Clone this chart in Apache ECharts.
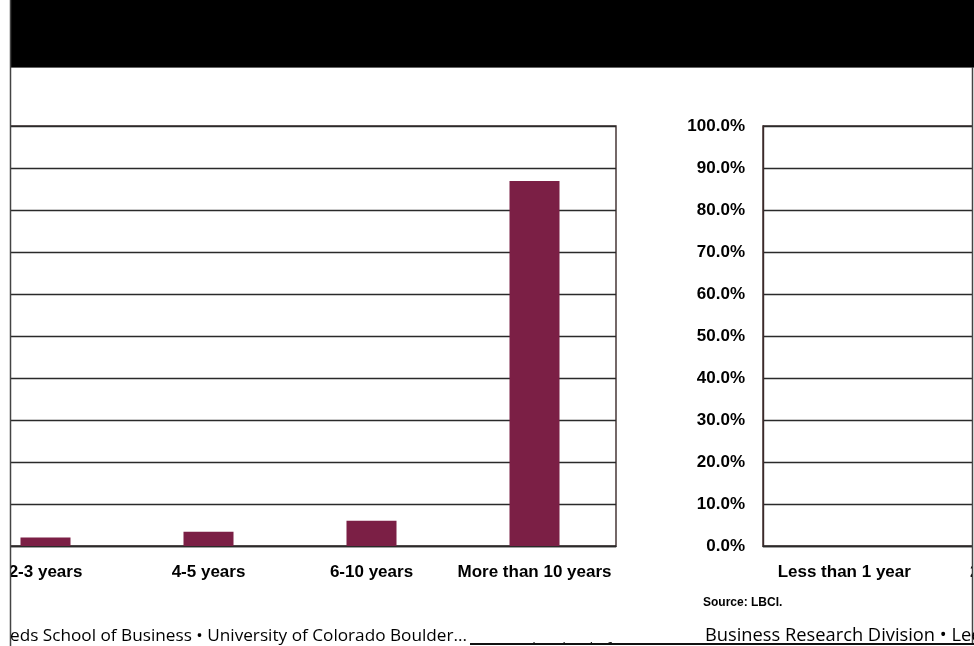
<!DOCTYPE html>
<html>
<head>
<meta charset="utf-8">
<script src="https://cdn.jsdelivr.net/npm/echarts@6/dist/echarts.min.js"></script>
<style>
html,body{margin:0;padding:0;background:#fff;width:974px;height:646px;overflow:hidden;position:relative;}
#c{position:absolute;left:-40px;top:0;width:1200px;height:646px;}
</style>
</head>
<body>
<div id="c"></div>
<script>
// Left chart (cropped on the left)
var leftCategories = ['2-3 years', '4-5 years', '6-10 years', 'More than 10 years'];
var leftValues = [2.0, 3.4, 6.0, 86.9];
// Right chart (cropped on the right)
var rightCategories = ['Less than 1 year', '2-3 years'];
var rightValues = [0, null];
var yTicks = { min: 0, max: 100, interval: 10 };
var sourceText = 'Source: LBCI.';
var footerLeft = 'eds School of Business \u2022 University of Colorado Boulder...';
var footerRight = 'Business Research Division \u2022 Leeds School of Business';

var OX = 40; // container offset (chart canvas starts 40px left of the viewport)
var chart = echarts.init(document.getElementById('c'), null, { renderer: 'canvas' });
var labelFont = { color: '#000', fontWeight: 'bold', fontSize: 17, fontFamily: 'Liberation Sans, Arial, sans-serif' };
var gridLine = { show: true, lineStyle: { color: '#2a2a2a', width: 1.4 } };

chart.setOption({
  animation: false,
  backgroundColor: '#fff',
  grid: [
    { left: -36 + OX, top: 126, width: 652, height: 420, show: true, borderColor: '#3a2a2a', borderWidth: 1.4 },
    { left: 763 + OX, top: 126, width: 325, height: 420, show: true, borderColor: '#3a2a2a', borderWidth: 1.4 }
  ],
  xAxis: [
    { type: 'category', gridIndex: 0, data: leftCategories, axisTick: { show: false },
      axisLine: { lineStyle: { color: '#2a2a2a', width: 1.4 } }, axisLabel: Object.assign({ margin: 18, interval: 0 }, labelFont) },
    { type: 'category', gridIndex: 1, data: rightCategories, axisTick: { show: false },
      axisLine: { lineStyle: { color: '#2a2a2a', width: 1.4 } }, axisLabel: Object.assign({ margin: 18, interval: 0 }, labelFont) }
  ],
  yAxis: [
    { type: 'value', gridIndex: 0, min: yTicks.min, max: yTicks.max, interval: yTicks.interval,
      axisLabel: { show: false }, axisLine: { show: false }, axisTick: { show: false }, splitLine: gridLine },
    { type: 'value', gridIndex: 1, min: yTicks.min, max: yTicks.max, interval: yTicks.interval,
      axisLabel: Object.assign({ margin: 18, formatter: function (v) { return v.toFixed(1) + '%'; } }, labelFont),
      axisLine: { show: true, lineStyle: { color: '#3a2a2a', width: 1.4 } }, axisTick: { show: false }, splitLine: gridLine }
  ],
  series: [
    { type: 'bar', xAxisIndex: 0, yAxisIndex: 0, data: leftValues, barWidth: 50,
      itemStyle: { color: '#7b1f45' } },
    { type: 'bar', xAxisIndex: 1, yAxisIndex: 1, data: rightValues, barWidth: 50,
      itemStyle: { color: '#7b1f45' } }
  ],
  graphic: [
    { type: 'rect', z: 100, shape: { x: 0, y: 0, width: 10 + OX, height: 646 }, style: { fill: '#fff' } },
    { type: 'rect', z: 100, shape: { x: 973 + OX, y: 68, width: 300, height: 578 }, style: { fill: '#fff' } },
    { type: 'rect', z: 101, shape: { x: 10 + OX, y: 0, width: 1100, height: 67 }, style: { fill: '#000' } },
    { type: 'line', z: 101, shape: { x1: 10 + OX, y1: 67.5, x2: 974 + OX, y2: 67.5 }, style: { stroke: '#666', lineWidth: 1 } },
    { type: 'line', z: 102, shape: { x1: 10.5 + OX, y1: 0, x2: 10.5 + OX, y2: 646 }, style: { stroke: '#444', lineWidth: 1.5 } },
    { type: 'line', z: 102, shape: { x1: 972.5 + OX, y1: 67, x2: 972.5 + OX, y2: 646 }, style: { stroke: '#444', lineWidth: 1.5 } },
    { type: 'text', z: 103, left: 703 + OX, top: 597, style: { text: sourceText, fill: '#000', font: 'bold 12px Liberation Sans, Arial, sans-serif' } },
    { type: 'text', z: 103, left: 10 + OX, top: 628, style: { text: footerLeft, fill: '#000', font: '17.2px Open Sans, sans-serif' } },
    { type: 'text', z: 103, left: 502 + OX, top: 641, style: { text: 'Leeds School of Business', fill: '#222', font: '15px Open Sans, sans-serif' } },
    { type: 'text', z: 103, left: 705 + OX, top: 627, style: { text: footerRight, fill: '#000', font: '18.3px Open Sans, sans-serif' } },
    { type: 'rect', z: 104, shape: { x: 470 + OX, y: 643, width: 600, height: 4 }, style: { fill: '#fff' } },
    { type: 'line', z: 105, shape: { x1: 470 + OX, y1: 644, x2: 974 + OX, y2: 644 }, style: { stroke: '#111', lineWidth: 2 } }
  ]
});
</script>
</body>
</html>
